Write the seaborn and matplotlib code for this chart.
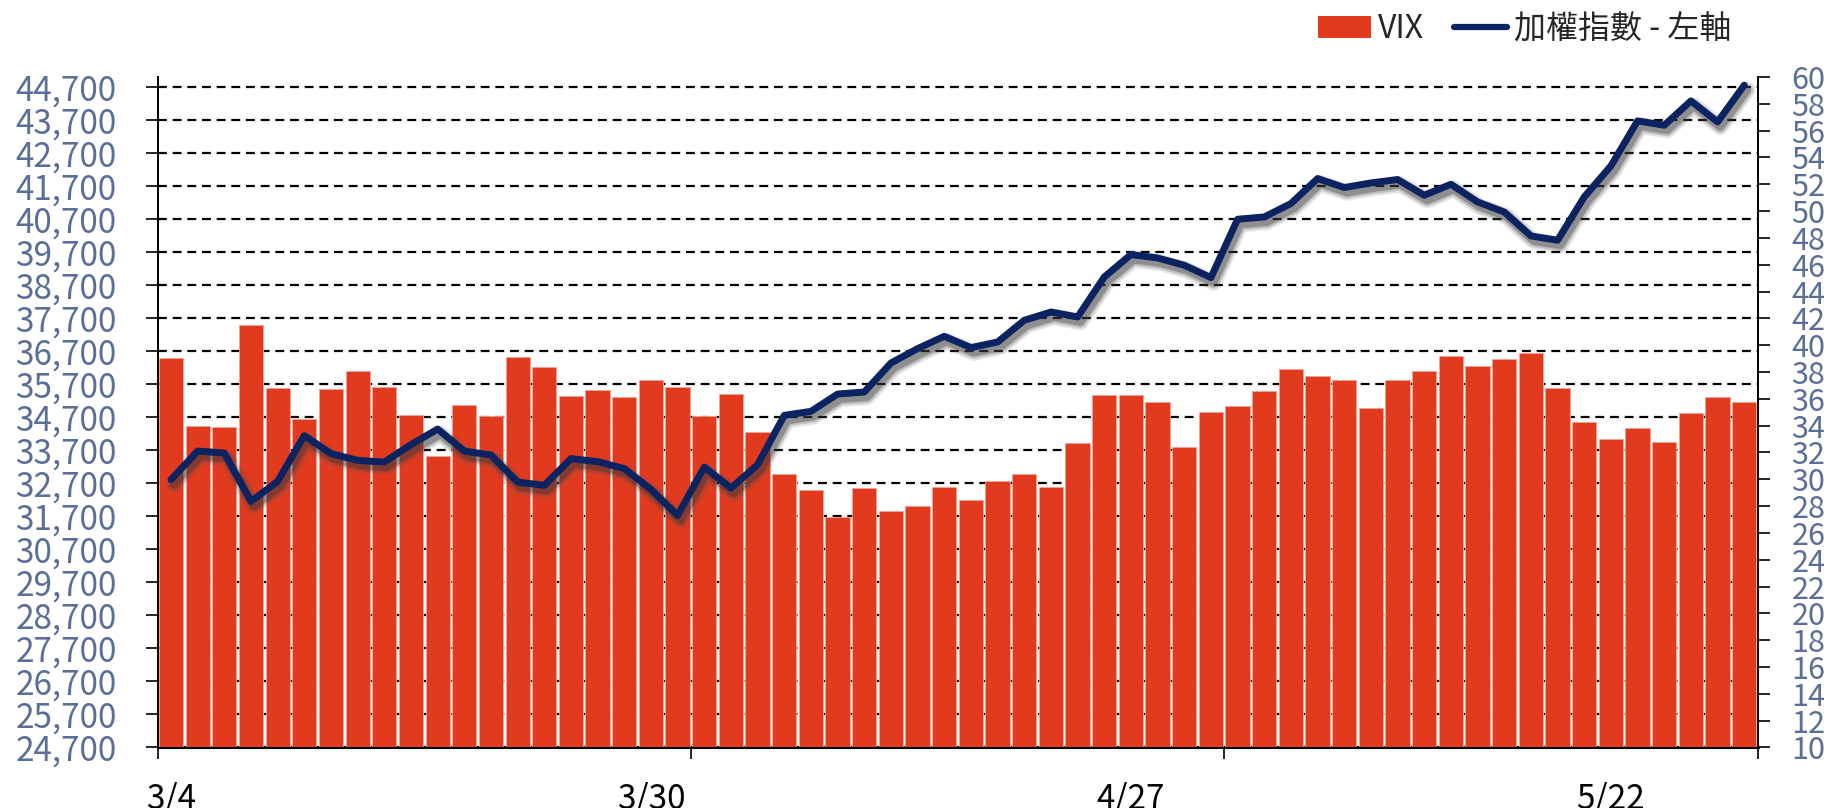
import numpy as np
import pandas as pd
import matplotlib
matplotlib.use("Agg")
import matplotlib.pyplot as plt
import matplotlib.patheffects as pe
from matplotlib.patches import Patch
from matplotlib.lines import Line2D
from matplotlib.ticker import FuncFormatter
import seaborn as sns

# ---------------- data ----------------
dates = ["3/4", "3/5", "3/6", "3/9", "3/10", "3/11", "3/12", "3/13", "3/16", "3/17",
         "3/18", "3/19", "3/20", "3/23", "3/24", "3/25", "3/26", "3/27", "3/30", "3/31",
         "4/1", "4/2", "4/7", "4/8", "4/9", "4/10", "4/13", "4/14", "4/15", "4/16",
         "4/17", "4/20", "4/21", "4/22", "4/23", "4/24", "4/27", "4/28", "4/29", "4/30",
         "5/4", "5/5", "5/6", "5/7", "5/8", "5/11", "5/12", "5/13", "5/14", "5/15",
         "5/18", "5/19", "5/20", "5/21", "5/22", "5/25", "5/26", "5/27", "5/28", "5/29"]

vix = [39.07, 33.94, 33.92, 41.53, 36.83, 34.47, 36.70, 38.07, 36.90, 34.77,
       31.71, 35.56, 34.71, 39.09, 38.35, 36.18, 36.68, 36.11, 37.43, 36.90,
       34.74, 36.33, 33.50, 30.42, 29.22, 27.21, 29.32, 27.60, 28.03, 29.39,
       28.42, 29.89, 30.36, 29.39, 32.68, 36.30, 36.31, 35.76, 32.43, 35.04,
       35.47, 36.60, 38.20, 37.67, 37.43, 35.34, 37.44, 38.10, 39.22, 38.47,
       38.97, 39.44, 36.78, 34.24, 32.97, 33.85, 32.77, 34.97, 36.16, 35.76]

taiex = [32809, 33675, 33614, 32151, 32757, 34141, 33596, 33393, 33342, 33869,
         34341, 33675, 33554, 32736, 32636, 33445, 33354, 33142, 32515, 31727,
         33190, 32554, 33263, 34756, 34877, 35401, 35462, 36341, 36777, 37149,
         36807, 36977, 37634, 37885, 37734, 38945, 39624, 39521, 39300, 38927,
         40693, 40763, 41169, 41926, 41653, 41793, 41896, 41420, 41753, 41217,
         40914, 40187, 40057, 41369, 42308, 43671, 43540, 44276, 43640, 44752]

x_labels = ["3/4", "3/30", "4/27", "5/22"]
left_ticks = list(range(24700, 44701, 1000))
right_ticks = list(range(10, 61, 2))

vix_name = "VIX"
taiex_name = "加權指數 - 左軸"

# ---------------- style ----------------
sns.set_style("white")
plt.rcParams["font.family"] = ["Noto Sans CJK TC", "DejaVu Sans"]

BAR_C = "#E13A1E"
LINE_C = "#0B2361"
LAB_C = "#5A6E9A"

df = pd.DataFrame({"pos": np.arange(len(dates)), "date": dates,
                   "vix": vix, "taiex": taiex})

fig = plt.figure(figsize=(18.31, 8.08), dpi=100)
ax = fig.add_axes([0.0861, 0.0749, 0.8738, 0.8298])   # left axis: grid + ticks
ax_bar = ax.twinx()                                      # right axis: VIX bars
ax_line = ax.twinx()                                     # line on left scale

# bars
sns.barplot(data=df, x="pos", y="vix", ax=ax_bar, color=BAR_C, saturation=1,
            width=0.91, edgecolor="#F3A493", linewidth=0.6)

# line
sns.lineplot(data=df, x="pos", y="taiex", ax=ax_line, color=LINE_C, lw=5.0,
             solid_capstyle="round", solid_joinstyle="round")
ax_line.lines[0].set_path_effects([
    pe.SimpleLineShadow(offset=(2, -3.5), shadow_color="#555555", alpha=0.15, linewidth=12),
    pe.SimpleLineShadow(offset=(2, -3.5), shadow_color="#444444", alpha=0.22, linewidth=9),
    pe.SimpleLineShadow(offset=(2, -3.5), shadow_color="#333333", alpha=0.35, linewidth=6),
    pe.Normal(),
])

# limits
n = len(dates)
for a in (ax, ax_bar, ax_line):
    a.set_xlim(-0.5, n - 0.5)
ax.set_ylim(24700, 45000)
ax_line.set_ylim(24700, 45000)
ax_bar.set_ylim(10, 60)

# left axis
ax.set_yticks(left_ticks)
ax.yaxis.set_major_formatter(FuncFormatter(lambda v, p: f"{v:,.0f}"))
ax.tick_params(axis="y", direction="out", length=8.5, width=1.2, color="black",
               labelcolor=LAB_C, labelsize=24, pad=21, left=True)
ax.yaxis.grid(True, color="black", linestyle=(0, (4.0, 2.6)), linewidth=1.6)
ax.xaxis.grid(False)
ax.set_axisbelow(True)

# right axis
ax_bar.set_yticks(right_ticks)
ax_bar.tick_params(axis="y", direction="out", length=8.5, width=1.2, color="black",
                   labelcolor=LAB_C, labelsize=22, pad=16, right=True)
ax_bar.set_ylabel("")
ax_bar.set_xlabel("")
ax_bar.grid(False)

# x axis
label_pos = [dates.index(l) for l in x_labels]
ax.set_xticks(label_pos)
ax.set_xticklabels(x_labels)
ax.set_xticks([-0.5, 19.5, 39.5, 59.5], minor=True)
ax.tick_params(axis="x", which="major", length=0, labelsize=24, labelcolor="black", pad=25)
ax.tick_params(axis="x", which="minor", direction="out", length=8.5, width=1.2,
               color="black", bottom=True)
ax.set_xlabel("")
ax.set_ylabel("")

ax_line.axis("off")

# spines
for s in ("top", "right"):
    ax.spines[s].set_visible(False)
ax.spines["left"].set_color("black")
ax.spines["left"].set_linewidth(1.4)
ax.spines["bottom"].set_color("black")
ax.spines["bottom"].set_linewidth(2.2)
for s in ("top", "left", "bottom"):
    ax_bar.spines[s].set_visible(False)
ax_bar.spines["right"].set_color("black")
ax_bar.spines["right"].set_linewidth(1.4)

# legend
handles = [Patch(facecolor=BAR_C, edgecolor="none"),
           Line2D([0], [0], color=LINE_C, lw=4.5, solid_capstyle="round")]
fig.legend(handles, [vix_name, taiex_name], loc="center right",
           bbox_to_anchor=(0.9455, 0.9640), ncol=2, frameon=False,
           fontsize=23, handlelength=1.65, handletextpad=0.22,
           columnspacing=0.95, borderpad=0, borderaxespad=0)

fig.savefig("out.png", dpi=100)
